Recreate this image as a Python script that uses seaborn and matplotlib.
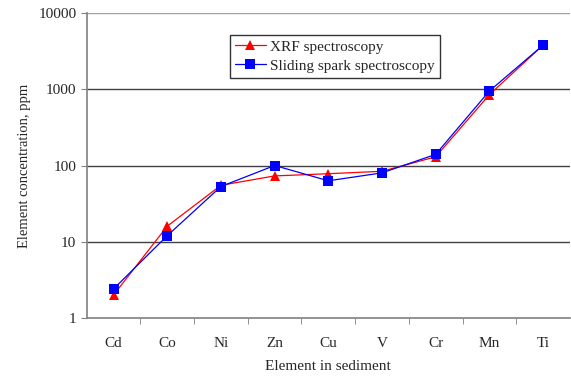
import numpy as np
import pandas as pd
import seaborn as sns
import matplotlib.pyplot as plt
from matplotlib.ticker import FixedLocator, NullLocator

elements = ['Cd', 'Co', 'Ni', 'Zn', 'Cu', 'V', 'Cr', 'Mn', 'Ti']
xrf = [2.0, 16, 55, 73, 78, 84, 130, 850, 3800]
spark = [2.4, 12, 53, 100, 63, 80, 140, 950, 3800]

sns.set_style('white')
plt.rcParams['font.family'] = ['Liberation Serif', 'DejaVu Serif']

fig = plt.figure(figsize=(5.71, 3.77), dpi=100)
ax = fig.add_axes([0.152, 0.157, 0.846, 0.808])

pos = np.arange(len(elements))
df = pd.DataFrame({'pos': np.concatenate([pos, pos]),
                   'value': xrf + spark,
                   'method': ['XRF spectroscopy'] * len(elements) + ['Sliding spark spectroscopy'] * len(elements)})

sns.lineplot(data=df, x='pos', y='value', hue='method', style='method',
             palette={'XRF spectroscopy': '#ff0000', 'Sliding spark spectroscopy': '#0000ff'},
             markers={'XRF spectroscopy': '^', 'Sliding spark spectroscopy': 's'},
             dashes=False, markersize=7, linewidth=0.9, markeredgewidth=0, ax=ax)

ax.set_yscale('log')
ax.set_ylim(1, 10000)
ax.set_xlim(-0.5, len(elements) - 0.5)
ax.yaxis.set_major_locator(FixedLocator([1, 10, 100, 1000, 10000]))
ax.yaxis.set_minor_locator(NullLocator())
ax.set_yticklabels(['1', '10', '100', '1000', '10000'])
ax.set_xticks(pos)
ax.set_xticklabels(elements)
ax.xaxis.set_minor_locator(FixedLocator(np.arange(0.5, len(elements) - 0.5, 1.0)))
ax.tick_params(axis='x', which='major', length=0, pad=14, labelsize=11)
ax.tick_params(axis='x', which='minor', length=4, direction='out', color='#808080', bottom=True)
ax.tick_params(axis='y', length=4, direction='out', color='#808080', left=True, labelsize=11)

for y in [10, 100, 1000]:
    ax.axhline(y, color='#404040', linewidth=1, zorder=0)
ax.axhline(10000, color='#a0a0a0', linewidth=1, zorder=0)

for s in ['top', 'right']:
    ax.spines[s].set_visible(False)
for s in ['left', 'bottom']:
    ax.spines[s].set_color('#808080')
    ax.spines[s].set_linewidth(1.2)

ax.set_xlabel('Element in sediment', fontsize=11, labelpad=7)
ax.set_ylabel('Element concentration, ppm', fontsize=10.5, labelpad=5)

leg = ax.legend(loc='upper left', bbox_to_anchor=(0.28, 0.955), fontsize=11,
                frameon=True, fancybox=False, edgecolor='black', handlelength=2,
                borderpad=0.35, labelspacing=0.35, handletextpad=0.3)
leg.get_frame().set_linewidth(1)

fig.savefig('out.png', dpi=100)
